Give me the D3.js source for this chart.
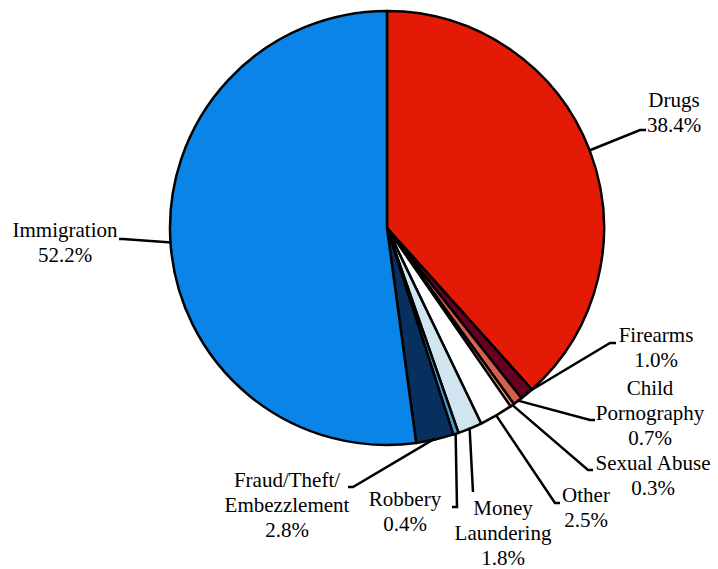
<!DOCTYPE html>
<html><head><meta charset="utf-8">
<script src="https://cdn.jsdelivr.net/npm/d3@7"></script>
</head><body style="margin:0">
<svg id="chart" width="718" height="569" font-family="Liberation Serif, Times New Roman, Tinos, Times, serif"></svg>
<script>
// Data
const categories = ["Drugs","Firearms","Child Pornography","Sexual Abuse","Other","Money Laundering","Robbery","Fraud/Theft/Embezzlement","Immigration"];
const values = [38.4, 1.0, 0.7, 0.3, 2.5, 1.8, 0.4, 2.8, 52.2];
const labelLines = [["Drugs"],["Firearms"],["Child","Pornography"],["Sexual Abuse"],["Other"],["Money","Laundering"],["Robbery"],["Fraud/Theft/","Embezzlement"],["Immigration"]];
const colors = ["#E31A06","#67001F","#D6604D","#F4A582","#FFFFFF","#D1E5F0","#4A9BD0","#08305E","#0A84E6"];

// Layout (label placement)
const layout = [
  {elbow:[640,130], end:[646,130], tx:674, ty:100},
  {elbow:[610,343], end:[616,343], tx:656, ty:335},
  {elbow:[590,420], end:[595,420], tx:650, ty:388},
  {elbow:[588,470], end:[593,470], tx:653, ty:463},
  {elbow:[555,503], end:[560,503], tx:586, ty:495},
  {elbow:[473,492], end:[473,492], tx:503, ty:508},
  {elbow:[457,507], end:[452,507], tx:405, ty:499},
  {elbow:[353,487], end:[348,487], tx:287, ty:480},
  {elbow:[123,239], end:[119,239], tx:65, ty:230}
];

const cx = 387, cy = 228, r = 217;
const svg = d3.select("#chart");

// labels first
const labelG = svg.append("g").attr("class","labels");
const pie = d3.pie().sort(null).value(d => d)(values);
pie.forEach((d,i) => {
  const L = layout[i];
  const lines = labelLines[i].concat([d3.format(".1f")(values[i]) + "%"]);
  lines.forEach((s,k) => {
    labelG.append("text")
      .attr("x", L.tx).attr("y", L.ty + k*25 + 7)
      .attr("font-family", "Liberation Serif, Times New Roman, Tinos, Times, serif")
      .attr("font-size", 21)
      .attr("text-anchor", "middle")
      .text(s);
  });
});

const g = svg.append("g").attr("transform", `translate(${cx},${cy})`);
const arc = d3.arc().innerRadius(0).outerRadius(r);
g.selectAll("path.slice").data(pie).enter().append("path")
  .attr("class","slice")
  .attr("d", arc)
  .attr("fill", (d,i) => colors[i])
  .attr("stroke", "#000")
  .attr("stroke-width", 2.5)
  .attr("stroke-linejoin", "round");

pie.forEach((d,i) => {
  const a = (d.startAngle + d.endAngle)/2;
  const sx = cx + (r-1) * Math.sin(a), sy = cy - (r-1) * Math.cos(a);
  const L = layout[i];
  svg.append("polyline")
    .attr("points", [[sx,sy], L.elbow, L.end].map(p => p.join(",")).join(" "))
    .attr("fill","none").attr("stroke","#000").attr("stroke-width",2.5);
});
</script>
</body></html>
